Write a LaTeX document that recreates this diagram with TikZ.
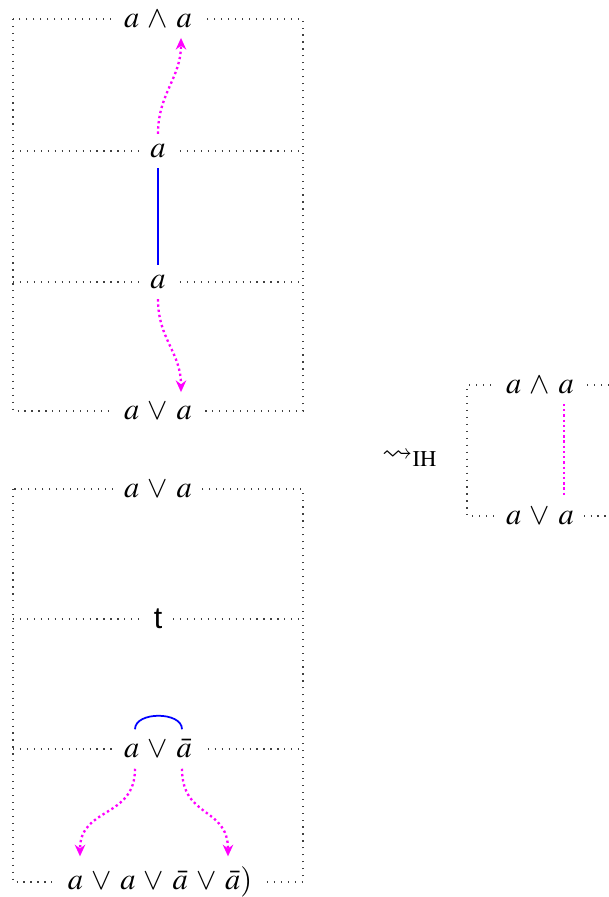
\documentclass[tikz,border=0pt]{standalone}
\usepackage{amssymb}
\usepackage{mathptmx}
\usepackage{fontspec}
\setmainfont{Liberation Serif}
\setsansfont{Liberation Sans}
\usetikzlibrary{arrows.meta, positioning, calc}
\definecolor{flowpink}{RGB}{255,0,255}
\newcommand{\termfont}{\fontsize{10.5pt}{13pt}\selectfont\medmuskip=5mu\relax}

\begin{document}
\begin{tikzpicture}[
    x=0.345pt, y=-0.345pt,
    frame/.style={draw=black!75, dotted},
    term/.style={fill=white, inner sep=3.4pt, font=\termfont},
    link/.style={draw=blue, semithick},
    flow/.style={draw=flowpink, thick, densely dotted},
    >={Stealth[length=4pt, width=3.6pt]}
  ]
  \useasboundingbox (0,0) rectangle (609,897);

  % Upper derivation
  \draw[frame] (13,19) rectangle (303,411);
  \draw[frame] (13,151) -- (303,151);
  \draw[frame] (13,282) -- (303,282);
  \node[term] (conj)  at (158,19)  {$a \wedge a$};
  \node[term] (upper) at (158,151) {$a$};
  \node[term] (lower) at (158,282) {$a$};
  \node[term] (disj)  at (158,411) {$a \vee a$};
  \coordinate (conj-r) at ($(conj.south)+(23,0)$);
  \coordinate (disj-r) at ($(disj.north)+(23,0)$);

  \draw[flow, ->] (upper.north) .. controls +(0,-40) and +(0,40) .. (conj-r);
  \draw[link] (upper) -- (lower);
  \draw[flow, ->] (lower.south) .. controls +(0,40) and +(0,-40) .. (disj-r);

  % Lower derivation
  \draw[frame] (13,489) rectangle (303,882);
  \draw[frame] (13,619) -- (303,619);
  \draw[frame] (13,749) -- (303,749);
  \node[term] (disj2)  at (158,489) {$a \vee a$};
  \node[term] (truth)  at (158,619) {\textsf{t}};
  \node[term] (excl)   at (158,749) {$a \vee \bar{a}$};
  \node[term] (result) at (160,882) {$a \vee a \vee \bar{a} \vee \bar{a})$};
  \coordinate (excl-l)   at ($(excl.north)+(-23,0)$);
  \coordinate (excl-r)   at ($(excl.north)+(24,0)$);
  \coordinate (excl-bl)  at ($(excl.south)+(-23,0)$);
  \coordinate (excl-br)  at ($(excl.south)+(24,0)$);
  \coordinate (result-l) at ($(result.north)+(-80,0)$);
  \coordinate (result-r) at ($(result.north)+(68,0)$);

  \draw[link] (excl-l) .. controls +(0,-18) and +(0,-18) .. (excl-r);
  \draw[flow, ->] (excl-bl) .. controls +(0,50) and +(0,-50) .. (result-l);
  \draw[flow, ->] (excl-br) .. controls +(0,50) and +(0,-50) .. (result-r);

  % Induction step
  \node[font=\termfont] (ih) at (410,458) {$\rightsquigarrow_{\mathrm{IH}}$};

  % Result of the step
  \draw[frame] (609,385) -- (467,385) -- (467,516) -- (609,516);
  \node[term] (rconj) at (540,385) {$a \wedge a$};
  \node[term] (rdisj) at (540,516) {$a \vee a$};
  \coordinate (rconj-r) at ($(rconj.south)+(24,0)$);
  \coordinate (rdisj-r) at ($(rdisj.north)+(24,0)$);
  \draw[flow] (rconj-r) -- (rdisj-r);

\end{tikzpicture}
\end{document}
